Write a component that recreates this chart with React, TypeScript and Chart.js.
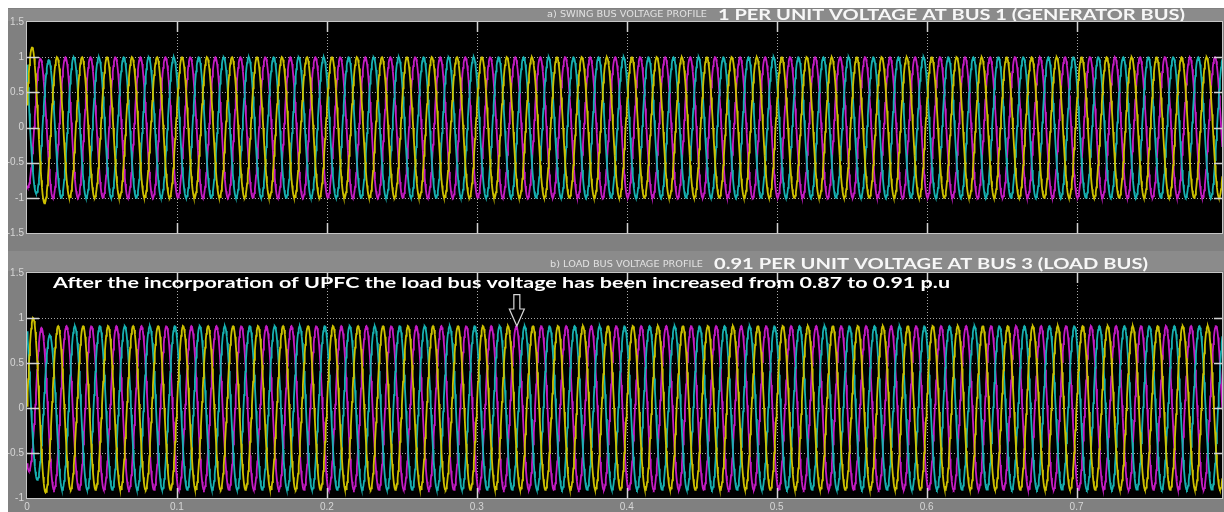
import { useEffect, useRef } from "react";
import { Chart, registerables } from "chart.js";

Chart.register(...registerables);

// ---- time base -------------------------------------------------------------
const FREQUENCY_HZ = 60;
const TIME_END = 0.797;
const SAMPLE_STEP = 0.0004;
const TIME_TICKS = [0, 0.1, 0.2, 0.3, 0.4, 0.5, 0.6, 0.7];
const TIME_TICK_LABELS = ["0", "0.1", "0.2", "0.3", "0.4", "0.5", "0.6", "0.7"];

// ---- voltage axes (per unit) ----------------------------------------------
const SWING_Y_TICKS = [-1.5, -1, -0.5, 0, 0.5, 1, 1.5];
const SWING_Y_LABELS = ["-1.5", "-1", "-0.5", "0", "0.5", "1", "1.5"];
const LOAD_Y_TICKS = [-1, -0.5, 0, 0.5, 1, 1.5];
const LOAD_Y_LABELS = ["-1", "-0.5", "0", "0.5", "1", "1.5"];

// ---- three phases ---------------------------------------------------------
const PHASES = ["Phase A", "Phase B", "Phase C"];
const PHASE_COLORS = ["#cdc100", "#c41cc4", "#17b2b2"];
const PHASE_LAG_DEG = [0, 120, 240];

// Bus 1 (swing / generator bus)
const SWING_AMPLITUDE = 1.0;
const SWING_FIRST_CREST = 0.0034; // first crest of phase A, s
// crest value of the first half-cycles after start-up, per phase
const SWING_START_A = [1.14, 1.08];
const SWING_START_B = [0.85, 0.98];
const SWING_START_C = [1.3, 0.94, 0.96];

// Bus 3 (load bus) with UPFC
const LOAD_AMPLITUDE = 0.91;
const LOAD_FIRST_CREST = 0.0041;
const LOAD_START_A = [1.0, 0.94];
const LOAD_START_B = [0.7, 0.89];
const LOAD_START_C = [1.0, 0.8, 0.81];

// marker pointing at a load-bus crest
const ARROW_TIME = 0.3267;
const ARROW_TOP = 1.26;
const ARROW_HEAD = 1.1;

const SWING_CAPTION = "a) SWING BUS VOLTAGE PROFILE";
const SWING_TITLE = "1 PER UNIT VOLTAGE AT BUS 1 (GENERATOR BUS)";
const LOAD_CAPTION = "b) LOAD BUS VOLTAGE PROFILE";
const LOAD_TITLE = "0.91 PER UNIT VOLTAGE AT BUS 3 (LOAD BUS)";
const LOAD_NOTE =
  "After the incorporation of UPFC the load bus voltage has been increased from 0.87 to 0.91 p.u";

type Pt = { x: number; y: number };

// One phase of the scope trace: a 60 Hz wave whose half-cycle crests follow
// the start-up list and then stay at the steady amplitude.
function phaseTrace(amplitude: number, firstCrest: number, lagDeg: number, startCrests: number[]): Pt[] {
  const w = 2 * Math.PI * FREQUENCY_HZ;
  const lag = (lagDeg * Math.PI) / 180;
  const angle = (t: number) => w * (t - firstCrest) - lag;
  const lobe = (t: number) => Math.floor((angle(t) + Math.PI / 2) / Math.PI);
  const lobe0 = lobe(0);
  const pts: Pt[] = [];
  const n = Math.round(TIME_END / SAMPLE_STEP);
  for (let i = 0; i <= n; i++) {
    const t = i * SAMPLE_STEP;
    const k = lobe(t) - lobe0;
    const a = k < startCrests.length ? startCrests[k] : amplitude;
    pts.push({ x: t, y: a * Math.cos(angle(t)) });
  }
  return pts;
}

function drawFitted(
  ctx: CanvasRenderingContext2D,
  text: string,
  x: number,
  baseline: number,
  width: number,
  font: string,
  color: string
) {
  ctx.save();
  ctx.font = font;
  const m = ctx.measureText(text).width;
  ctx.translate(x, baseline);
  ctx.scale(width / m, 1);
  ctx.fillStyle = color;
  ctx.textAlign = "left";
  ctx.textBaseline = "alphabetic";
  ctx.fillText(text, 0, 0);
  ctx.restore();
}

type PanelCfg = {
  barTop: number;
  barHeight: number;
  caption: string;
  captionX: number;
  captionW: number;
  captionBase: number;
  captionFont: string;
  title: string;
  titleX: number;
  titleW: number;
  titleBase: number;
  yTicks: number[];
  note?: { text: string; x: number; w: number; base: number };
  arrow?: boolean;
};

function scopePlugin(cfg: PanelCfg) {
  return {
    id: "scopePanel",
    beforeDraw(chart: any) {
      const ctx = chart.ctx as CanvasRenderingContext2D;
      ctx.save();
      ctx.fillStyle = "#8b8b8b";
      ctx.fillRect(0, cfg.barTop, chart.width, cfg.barHeight);
      ctx.restore();
      drawFitted(ctx, cfg.caption, cfg.captionX, cfg.captionBase, cfg.captionW, cfg.captionFont, "#e2e2e2");
      drawFitted(ctx, cfg.title, cfg.titleX, cfg.titleBase, cfg.titleW, "bold 15px Lato", "#f7f7f7");
    },
    beforeDatasetsDraw(chart: any) {
      const ctx = chart.ctx as CanvasRenderingContext2D;
      const { left, right, top, bottom } = chart.chartArea;
      const xs = chart.scales.x;
      const ys = chart.scales.y;
      ctx.save();
      ctx.fillStyle = "#000";
      ctx.fillRect(left, top, right - left, bottom - top);
      ctx.strokeStyle = "#a8a8a8";
      ctx.lineWidth = 1;
      ctx.setLineDash([1, 2]);
      for (const t of TIME_TICKS) {
        if (t <= xs.min) continue;
        const px = Math.round(xs.getPixelForValue(t)) + 0.5;
        ctx.beginPath();
        ctx.moveTo(px, top);
        ctx.lineTo(px, bottom);
        ctx.stroke();
      }
      for (const v of cfg.yTicks) {
        if (v <= ys.min || v >= ys.max) continue;
        const py = Math.round(ys.getPixelForValue(v)) + 0.5;
        ctx.beginPath();
        ctx.moveTo(left, py);
        ctx.lineTo(right, py);
        ctx.stroke();
      }
      ctx.restore();
    },
    afterDatasetsDraw(chart: any) {
      const ctx = chart.ctx as CanvasRenderingContext2D;
      const { left, right, top, bottom } = chart.chartArea;
      const xs = chart.scales.x;
      const ys = chart.scales.y;
      ctx.save();
      ctx.strokeStyle = "#d2d2d2";
      ctx.lineWidth = 1.5;
      for (const t of TIME_TICKS) {
        if (t <= xs.min) continue;
        const px = Math.round(xs.getPixelForValue(t)) + 0.5;
        ctx.beginPath();
        ctx.moveTo(px, top);
        ctx.lineTo(px, top + 10);
        ctx.moveTo(px, bottom);
        ctx.lineTo(px, bottom - 10);
        ctx.stroke();
      }
      for (const v of cfg.yTicks) {
        if (v <= ys.min || v >= ys.max) continue;
        const py = Math.round(ys.getPixelForValue(v)) + 0.5;
        ctx.beginPath();
        ctx.moveTo(left, py);
        ctx.lineTo(left + 12, py);
        ctx.moveTo(right, py);
        ctx.lineTo(right - 8, py);
        ctx.stroke();
      }
      ctx.lineWidth = 1;
      ctx.strokeStyle = "#c6c6c6";
      ctx.strokeRect(left - 0.5, top - 0.5, right - left + 1, bottom - top + 1);

      if (cfg.note) {
        drawFitted(ctx, cfg.note.text, cfg.note.x, cfg.note.base, cfg.note.w, "bold 16px Lato", "#ffffff");
      }
      if (cfg.arrow) {
        const ax = xs.getPixelForValue(ARROW_TIME);
        const yTop = ys.getPixelForValue(ARROW_TOP);
        const yHead = ys.getPixelForValue(ARROW_HEAD);
        const yTip = ys.getPixelForValue(LOAD_AMPLITUDE);
        ctx.beginPath();
        ctx.moveTo(ax - 3, yTop);
        ctx.lineTo(ax + 3, yTop);
        ctx.lineTo(ax + 3, yHead);
        ctx.lineTo(ax + 7.5, yHead);
        ctx.lineTo(ax, yTip);
        ctx.lineTo(ax - 7.5, yHead);
        ctx.lineTo(ax - 3, yHead);
        ctx.closePath();
        ctx.fillStyle = "#000";
        ctx.fill();
        ctx.strokeStyle = "#d8d8d8";
        ctx.lineWidth = 1.2;
        ctx.stroke();
      }
      ctx.restore();
    },
  };
}

function makeDatasets(amplitude: number, firstCrest: number, starts: number[][]) {
  const order = [0, 2, 1];
  return order.map((i) => ({
    label: PHASES[i],
    data: phaseTrace(amplitude, firstCrest, PHASE_LAG_DEG[i], starts[i]),
    borderColor: PHASE_COLORS[i],
    borderWidth: 1.8,
    pointRadius: 0,
    tension: 0,
    fill: false,
  }));
}

const LABEL_FONT = { family: "'Liberation Sans', Arial, sans-serif", size: 10 };

function chartConfig(
  datasets: any[],
  yTicks: number[],
  yLabels: string[],
  showTime: boolean,
  padding: { top: number; right: number; bottom: number; left: number },
  plugin: any
) {
  return {
    type: "line" as const,
    data: { datasets },
    options: {
      animation: false,
      responsive: false,
      parsing: false,
      normalized: true,
      events: [],
      layout: { padding },
      plugins: { legend: { display: false }, tooltip: { enabled: false }, title: { display: false } },
      scales: {
        x: {
          type: "linear",
          min: 0,
          max: TIME_END,
          display: showTime,
          grid: { display: false, drawTicks: false, tickLength: 0 },
          border: { display: false },
          afterBuildTicks: (s: any) => {
            s.ticks = TIME_TICKS.map((v) => ({ value: v }));
          },
          afterFit: (s: any) => {
            s.height = 14;
            s.paddingLeft = 0;
            s.paddingRight = 0;
          },
          ticks: {
            color: "#d6d6d6",
            font: LABEL_FONT,
            padding: 3,
            maxRotation: 0,
            autoSkip: false,
            callback: (_v: any, i: number) => TIME_TICK_LABELS[i],
          },
        },
        y: {
          type: "linear",
          min: yTicks[0],
          max: yTicks[yTicks.length - 1],
          grid: { display: false, drawTicks: false, tickLength: 0 },
          border: { display: false },
          afterBuildTicks: (s: any) => {
            s.ticks = yTicks.map((v) => ({ value: v }));
          },
          afterFit: (s: any) => {
            s.width = 19;
            s.paddingTop = 0;
            s.paddingBottom = 0;
          },
          ticks: {
            color: "#d6d6d6",
            font: LABEL_FONT,
            padding: 3,
            autoSkip: false,
            callback: (_v: any, i: number) => yLabels[i],
          },
        },
      },
    },
    plugins: [plugin],
  };
}

export default function App() {
  const swingRef = useRef<HTMLCanvasElement>(null);
  const loadRef = useRef<HTMLCanvasElement>(null);

  useEffect(() => {
    const swing = new Chart(
      swingRef.current as HTMLCanvasElement,
      chartConfig(
        makeDatasets(SWING_AMPLITUDE, SWING_FIRST_CREST, [SWING_START_A, SWING_START_B, SWING_START_C]),
        SWING_Y_TICKS,
        SWING_Y_LABELS,
        false,
        { top: 14, right: 2, bottom: 3, left: 0 },
        scopePlugin({
          barTop: 1,
          barHeight: 12,
          caption: SWING_CAPTION,
          captionX: 539,
          captionW: 160,
          captionBase: 9,
          captionFont: "9px 'DejaVu Sans'",
          title: SWING_TITLE,
          titleX: 710,
          titleW: 467,
          titleBase: 12,
          yTicks: SWING_Y_TICKS,
        })
      ) as any
    );
    const load = new Chart(
      loadRef.current as HTMLCanvasElement,
      chartConfig(
        makeDatasets(LOAD_AMPLITUDE, LOAD_FIRST_CREST, [LOAD_START_A, LOAD_START_B, LOAD_START_C]),
        LOAD_Y_TICKS,
        LOAD_Y_LABELS,
        true,
        { top: 23, right: 2, bottom: 0, left: 0 },
        scopePlugin({
          barTop: 1,
          barHeight: 20,
          caption: LOAD_CAPTION,
          captionX: 542,
          captionW: 153,
          captionBase: 17,
          captionFont: "9px 'DejaVu Sans'",
          title: LOAD_TITLE,
          titleX: 706,
          titleW: 434,
          titleBase: 19,
          yTicks: LOAD_Y_TICKS,
          note: { text: LOAD_NOTE, x: 45, w: 897, base: 38 },
          arrow: true,
        })
      ) as any
    );
    return () => {
      swing.destroy();
      load.destroy();
    };
  }, []);

  return (
    <div style={{ position: "fixed", left: 0, top: 0, width: 1224, height: 512, background: "#fff", overflow: "hidden" }}>
      <div style={{ position: "absolute", left: 8, top: 8, width: 1216, height: 504, background: "#808080" }} />
      <canvas
        ref={swingRef}
        width={1216}
        height={242}
        style={{ position: "absolute", left: 8, top: 8, width: 1216, height: 242, display: "block" }}
      />
      <canvas
        ref={loadRef}
        width={1216}
        height={262}
        style={{ position: "absolute", left: 8, top: 250, width: 1216, height: 262, display: "block" }}
      />
    </div>
  );
}
